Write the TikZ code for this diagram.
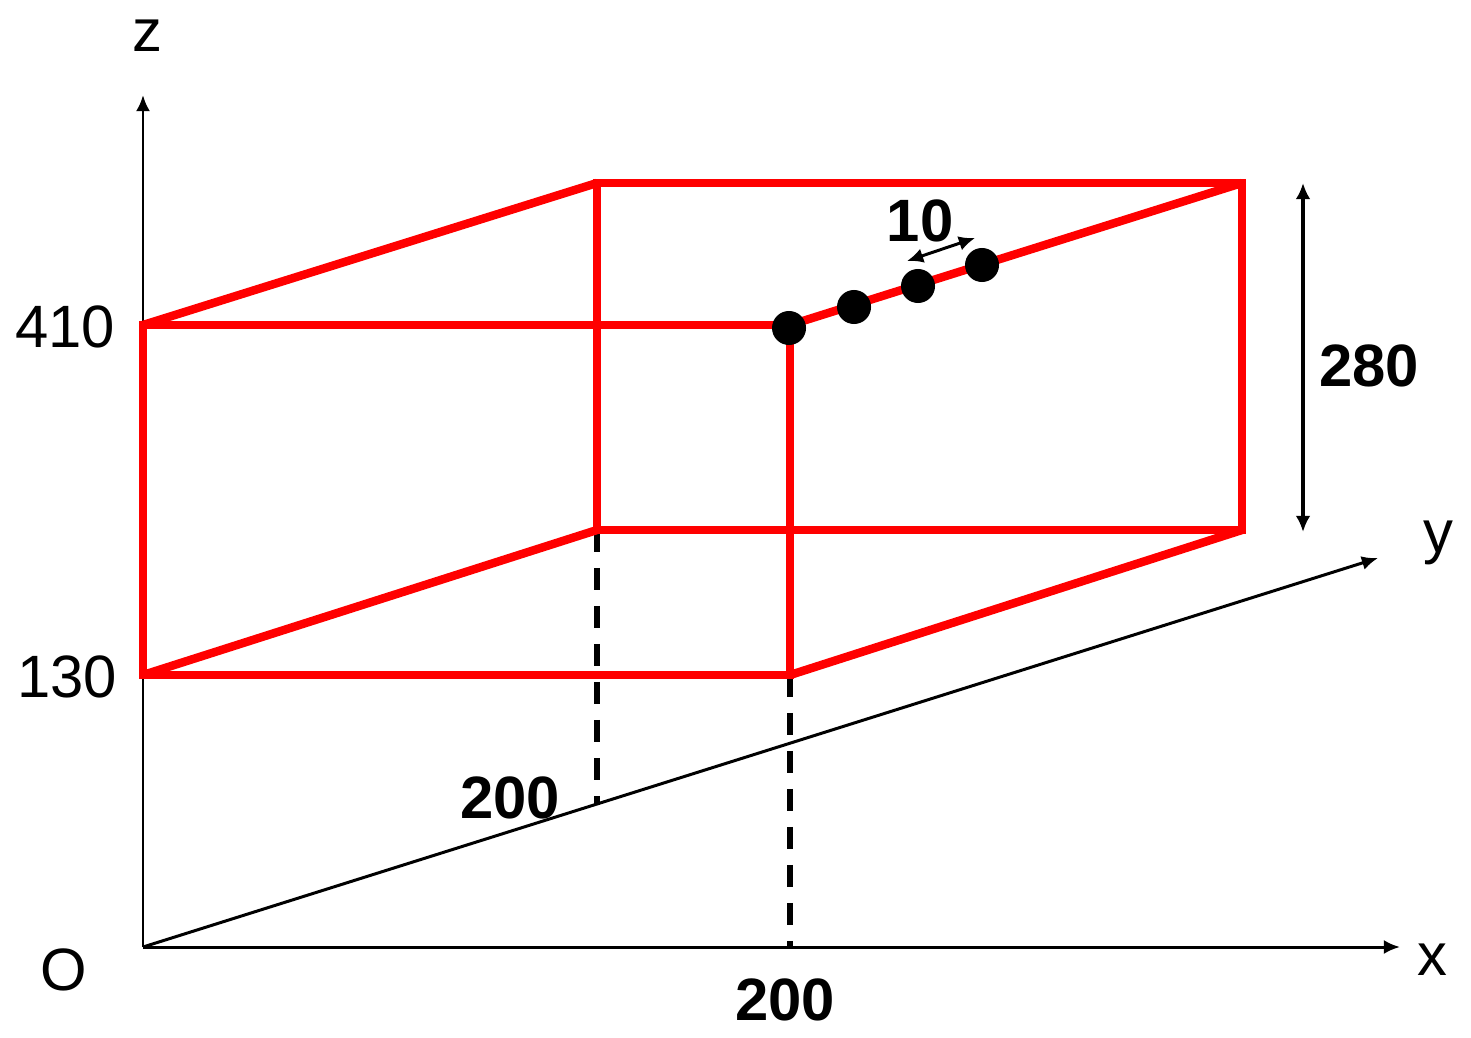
\documentclass[tikz,border=0pt]{standalone}
\usepackage{fontspec}
\setmainfont{Liberation Sans}
\usetikzlibrary{arrows.meta}
\begin{document}
\begin{tikzpicture}[x=0.01cm,y=-0.01cm,
  edge/.style={red,line width=2.4pt,line join=miter},
  axis/.style={black,line width=0.85pt,-{Latex[length=4.6pt,width=4pt]}},
  guide/.style={black,line width=1.7pt,dash pattern=on 6.3pt off 4.5pt},
  dot/.style={circle,fill=black,inner sep=0pt,minimum size=0.34cm},
  lbl/.style={font=\fontsize{17}{20}\selectfont,inner sep=0pt},
  blbl/.style={font=\fontsize{17}{20}\selectfont\bfseries,inner sep=0pt},
  dim/.style={black,line width=1pt,{Latex[length=4.6pt,width=4.2pt]}-{Latex[length=4.6pt,width=4.2pt]}}]
\useasboundingbox (0,0) rectangle (1471,1037);
% coordinates
\coordinate (O) at (143,947);
\coordinate (zend) at (143,95);
\coordinate (xend) at (1400,947);
\coordinate (yend) at (1378,558);
\coordinate (A1) at (143,325);
\coordinate (A2) at (790,325);
\coordinate (A3) at (790,675);
\coordinate (A4) at (143,675);
\coordinate (B1) at (597,183);
\coordinate (B2) at (1242,183);
\coordinate (B3) at (1242,530);
\coordinate (B4) at (597,530);
\coordinate (P1) at (597,805);
\coordinate (P2) at (790,947);
\coordinate (D1) at (1303,183);
\coordinate (D2) at (1303,532);
\coordinate (S1) at (907,261);
\coordinate (S2) at (975,238);
% axes
\draw[axis] (O) -- (zend);
\draw[axis] (O) -- (xend);
\draw[axis] (O) -- (yend);
% dashed guides
\draw[guide] (B4) -- (P1);
\draw[guide] (A3) -- (P2);
% box
\draw[edge] (A1) -- (A2) -- (A3) -- (A4) -- cycle;
\draw[edge] (B1) -- (B2) -- (B3) -- (B4) -- cycle;
\draw[edge] (A1) -- (B1);
\draw[edge] (A4) -- (B4);
\draw[edge] (A3) -- (B3);
\draw[edge] (A2) -- (B2);
% dots
\node[dot] (d1) at (789,328) {};
\node[dot] (d2) at (854,307) {};
\node[dot] (d3) at (918,286) {};
\node[dot] (d4) at (982,265) {};
% dimension arrows
\draw[dim] (D1) -- (D2);
\draw[dim,line width=0.85pt] (S1) -- (S2);
% labels
\node[lbl] (lz) at (147,36) {z};
\node[lbl] (l410) at (65,327) {410};
\node[lbl] (l130) at (67,677) {130};
\node[lbl] (lO) at (64,970) {O};
\node[lbl] (lx) at (1432,960) {x};
\node[lbl] (ly) at (1438,543) {y};
\node[blbl] (l10) at (920,221) {10};
\node[blbl] (l280) at (1369,366) {280};
\node[blbl] (l200a) at (510,798) {200};
\node[blbl] (l200b) at (785,1000) {200};
\end{tikzpicture}
\end{document}
